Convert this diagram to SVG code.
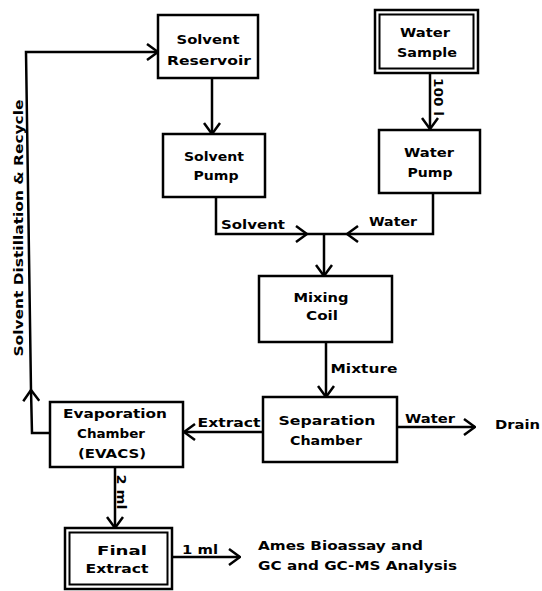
<svg xmlns="http://www.w3.org/2000/svg" width="542" height="591" viewBox="0 0 542 591">
<style>
.bx{fill:#fff;stroke:#000;stroke-width:2.5}
.bi{fill:none;stroke:#000;stroke-width:2}
.c{fill:none;stroke:#000;stroke-width:2.5;stroke-linejoin:miter}
.t{font-family:"DejaVu Sans","Liberation Sans",sans-serif;font-weight:bold;font-size:13px;text-anchor:middle;dominant-baseline:central;fill:#000}
.s{text-anchor:start}
</style>
<defs>
<marker id="ah" markerUnits="userSpaceOnUse" viewBox="0 0 13 18" refX="12" refY="9" markerWidth="13" markerHeight="18" orient="auto">
<path d="M1,1 L12,9 L1,17" fill="none" stroke="#000" stroke-width="2.5"/>
</marker>
</defs>
<rect width="542" height="591" fill="#fff"/>
<g id="connectors">
<path class="c" d="M50,433 L32,433 L31,390" marker-end="url(#ah)"/>
<path class="c" d="M31,390 L26,52 L158,52" marker-end="url(#ah)"/>
<path class="c" d="M212,78 L212,134" marker-end="url(#ah)"/>
<path class="c" d="M430,73 L430,129" marker-end="url(#ah)"/>
<path class="c" d="M216,197 L216,234 L307,234" marker-end="url(#ah)"/>
<path class="c" d="M433,193 L433,234 L347,234" marker-end="url(#ah)"/>
<path class="c" d="M307,234 L347,234"/>
<path class="c" d="M324,234 L324,276" marker-end="url(#ah)"/>
<path class="c" d="M326,342 L326,397" marker-end="url(#ah)"/>
<path class="c" d="M263,432 L184,432" marker-end="url(#ah)"/>
<path class="c" d="M397,427 L475,427" marker-end="url(#ah)"/>
<path class="c" d="M115,467 L115,528" marker-end="url(#ah)"/>
<path class="c" d="M172,557 L240,557" marker-end="url(#ah)"/>
</g>
<g id="labels">
<text class="t" transform="translate(18,228) rotate(-90)" textLength="257" lengthAdjust="spacingAndGlyphs">Solvent Distillation &amp; Recycle</text>
<text class="t" transform="translate(438,97) rotate(90)" textLength="38" lengthAdjust="spacingAndGlyphs">100 l</text>
<text class="t" transform="translate(121,492) rotate(90)" textLength="35" lengthAdjust="spacingAndGlyphs">2 ml</text>
<text class="t" x="253" y="224" textLength="64" lengthAdjust="spacingAndGlyphs">Solvent</text>
<text class="t" x="393" y="221" textLength="48" lengthAdjust="spacingAndGlyphs">Water</text>
<text class="t" x="364" y="368" textLength="67" lengthAdjust="spacingAndGlyphs">Mixture</text>
<text class="t" x="229" y="422" textLength="63" lengthAdjust="spacingAndGlyphs">Extract</text>
<text class="t" x="430" y="418" textLength="50" lengthAdjust="spacingAndGlyphs">Water</text>
<text class="t s" x="495" y="424" textLength="45" lengthAdjust="spacingAndGlyphs">Drain</text>
<text class="t" x="200" y="549" textLength="36" lengthAdjust="spacingAndGlyphs">1 ml</text>
<text class="t s" x="258" y="545" textLength="165" lengthAdjust="spacingAndGlyphs">Ames Bioassay and</text>
<text class="t s" x="258" y="565" textLength="199" lengthAdjust="spacingAndGlyphs">GC and GC-MS Analysis</text>
</g>
<g id="solvent-reservoir">
<rect class="bx" x="158" y="15" width="100" height="63"/>
<text class="t" x="208" y="39" textLength="63" lengthAdjust="spacingAndGlyphs">Solvent</text>
<text class="t" x="209" y="60" textLength="84" lengthAdjust="spacingAndGlyphs">Reservoir</text>
</g>
<g id="water-sample">
<rect class="bx" x="375" y="10" width="103" height="63" stroke-width="3"/>
<rect class="bi" x="379.5" y="14.5" width="94" height="54"/>
<text class="t" x="425" y="32" textLength="50" lengthAdjust="spacingAndGlyphs">Water</text>
<text class="t" x="427" y="52" textLength="60" lengthAdjust="spacingAndGlyphs">Sample</text>
</g>
<g id="solvent-pump">
<rect class="bx" x="163" y="134" width="102" height="63"/>
<text class="t" x="214" y="156" textLength="60" lengthAdjust="spacingAndGlyphs">Solvent</text>
<text class="t" x="216" y="175" textLength="45" lengthAdjust="spacingAndGlyphs">Pump</text>
</g>
<g id="water-pump">
<rect class="bx" x="379" y="130" width="101" height="63"/>
<text class="t" x="429" y="152" textLength="50" lengthAdjust="spacingAndGlyphs">Water</text>
<text class="t" x="430" y="172" textLength="45" lengthAdjust="spacingAndGlyphs">Pump</text>
</g>
<g id="mixing-coil">
<rect class="bx" x="259" y="276" width="133" height="66"/>
<text class="t" x="321" y="297" textLength="55" lengthAdjust="spacingAndGlyphs">Mixing</text>
<text class="t" x="322" y="315" textLength="32" lengthAdjust="spacingAndGlyphs">Coil</text>
</g>
<g id="separation-chamber">
<rect class="bx" x="263" y="397" width="134" height="65"/>
<text class="t" x="327" y="420" textLength="97" lengthAdjust="spacingAndGlyphs">Separation</text>
<text class="t" x="326" y="440" textLength="72" lengthAdjust="spacingAndGlyphs">Chamber</text>
</g>
<g id="evaporation-chamber">
<rect class="bx" x="50" y="402" width="133" height="65"/>
<text class="t" x="115" y="413" textLength="104" lengthAdjust="spacingAndGlyphs">Evaporation</text>
<text class="t" x="111" y="433" textLength="68" lengthAdjust="spacingAndGlyphs">Chamber</text>
<text class="t" x="112" y="453" textLength="68" lengthAdjust="spacingAndGlyphs">(EVACS)</text>
</g>
<g id="final-extract">
<rect class="bx" x="65" y="528" width="107" height="61" stroke-width="3"/>
<rect class="bi" x="69.5" y="532.5" width="98" height="52"/>
<text class="t" x="122" y="550" textLength="50" lengthAdjust="spacingAndGlyphs">Final</text>
<text class="t" x="117" y="568" textLength="63" lengthAdjust="spacingAndGlyphs">Extract</text>
</g>
</svg>
